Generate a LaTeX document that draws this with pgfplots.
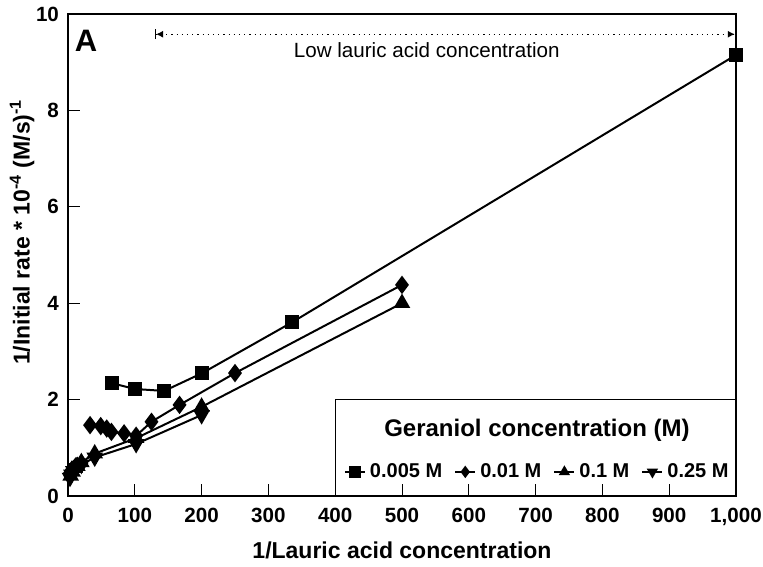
\documentclass[border=0pt]{standalone}
\usepackage{pgfplots}
\pgfplotsset{compat=1.18}
\usepackage{fontspec}
\setmainfont{Liberation Sans}
\usetikzlibrary{arrows.meta}
\begin{document}
\begin{tikzpicture}
\useasboundingbox (-34pt,-35pt) rectangle (347.5pt,248pt);
\begin{axis}[
  at={(0,0)}, anchor=south west,
  scale only axis, width=334pt, height=241pt,
  xmin=0, xmax=1000, ymin=0, ymax=10,
  xtick={0,100,...,1000},
  xticklabels={0,100,200,300,400,500,600,700,800,900,{1,000}},
  ytick={0,2,4,6,8,10},
  yticklabels={0,2,4,6,8,10},
  tick align=inside, major tick length=6pt,
  xtick pos=bottom, ytick pos=left,
  tick style={black, line width=0.5pt},
  axis line style={line width=0.6pt},
  tick label style={font=\fontsize{10.3}{12}\selectfont\bfseries},
  xticklabel style={yshift=-2.5pt},
  yticklabel style={xshift=-1pt},
  every axis plot/.append style={black, line width=1pt},
  legend style={draw=none, fill=none, at={(axis cs:704,0.5)}, anchor=center,
    font=\fontsize{10}{12}\selectfont\bfseries, legend columns=4,
    /tikz/every even column/.append style={column sep=4pt},
    inner sep=1pt},
  legend image code/.code={\draw[mark repeat=2,mark phase=2,#1] plot coordinates {(0pt,0pt) (5pt,0pt) (10pt,0pt)};},
  legend image post style={mark size=2.3pt},
  clip=false,
]
% legend box and title
\draw[line width=0.6pt] (axis cs:401,0) rectangle (axis cs:1000,2.0);
\node[font=\fontsize{12}{14}\selectfont\bfseries] at (axis cs:702,1.37) {Geraniol concentration (M)};

\addplot[mark=square*, mark size=3pt] coordinates {
 (66,2.34) (100,2.22) (144,2.18) (201,2.55) (335,3.60) (1000,9.15)};
\addlegendentry{0.005 M}
\addplot[mark=diamond*, mark size=3.8pt] coordinates {
 (33,1.47) (49,1.45) (58,1.40) (65,1.33) (84,1.30) (102,1.25) (125,1.54) (167,1.89) (250,2.55) (500,4.38)};
\addlegendentry{0.01 M}
\addplot[mark=triangle*, mark size=3.8pt] coordinates {
 (4,0.42) (7,0.50) (10,0.58) (14,0.62) (20,0.70) (40,0.88) (102,1.20) (200,1.85) (500,4.00)};
\addlegendentry{0.1 M}
\addplot[mark=triangle*, mark size=3.8pt, mark options={rotate=180}] coordinates {
 (3,0.38) (5,0.45) (8,0.52) (12,0.58) (20,0.65) (40,0.80) (102,1.08) (200,1.68)};
\addlegendentry{0.25 M}
\addplot[only marks, mark=diamond*, mark size=3.8pt, forget plot] coordinates {
 (3,0.48) (6,0.55) (12,0.62) (20,0.68)};

\draw[dotted, line width=0.6pt, {Bar[width=5pt]Latex[length=3.5pt,width=3.5pt]}-{Latex[length=3.5pt,width=3.5pt]Bar[width=5pt]}]
  (axis cs:130,9.58) -- (axis cs:1000,9.58);
\node[font=\fontsize{10.3}{12}\selectfont] at (axis cs:537,9.25) {Low lauric acid concentration};
\node[font=\fontsize{15.5}{18}\selectfont\bfseries] at (axis cs:27,9.44) {A};
\end{axis}
\node[font=\fontsize{11.5}{14}\selectfont\bfseries] at (167pt,-27pt) {1/Lauric acid concentration};
\node[rotate=90, font=\fontsize{11.5}{14}\selectfont\bfseries] at (-23pt,132pt) {1/Initial rate * 10\textsuperscript{-4} (M/s)\textsuperscript{-1}};
\end{tikzpicture}
\end{document}
